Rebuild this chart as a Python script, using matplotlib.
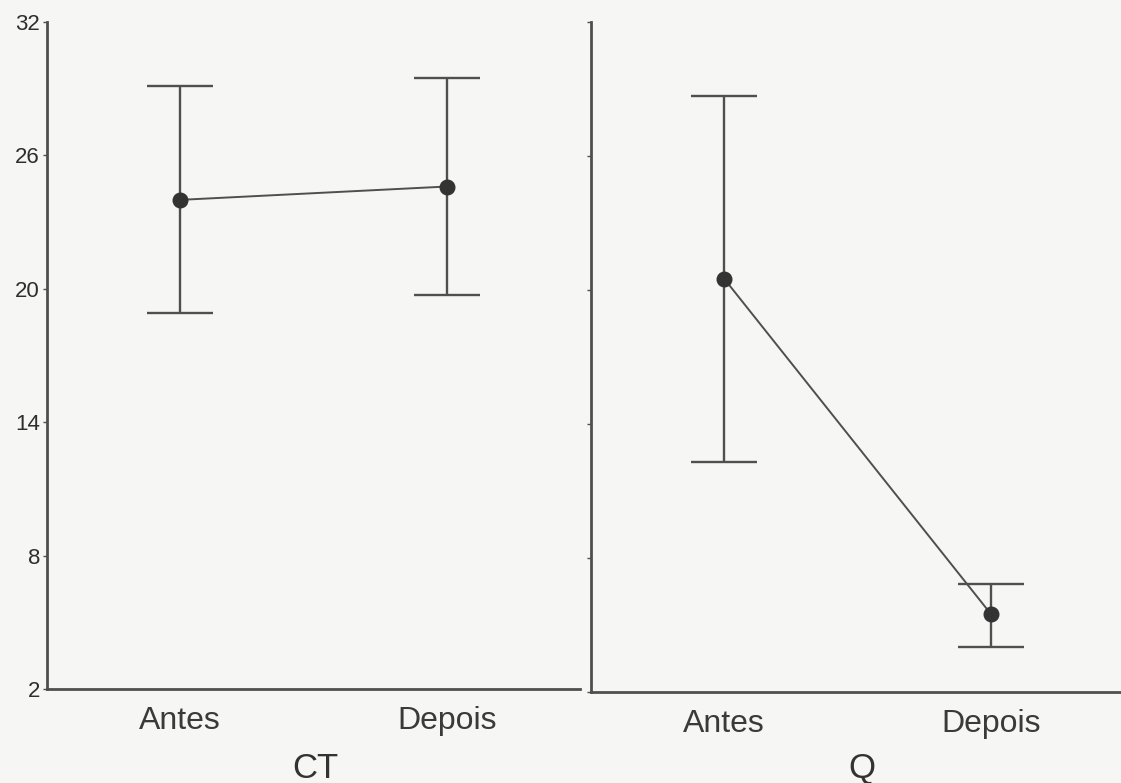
import matplotlib
matplotlib.use("Agg")
import matplotlib.pyplot as plt

# Mean abundance with error bars, before and after management
periods = ["Antes", "Depois"]
groups = ["CT", "Q"]

ct_mean = [24.0, 24.6]
ct_upper = [29.1, 29.5]
ct_lower = [18.9, 19.7]

q_mean = [20.5, 5.5]
q_upper = [28.7, 6.85]
q_lower = [12.3, 4.0]

y_ticks = [2, 8, 14, 20, 26, 32]

plt.rcParams["font.family"] = ["Liberation Sans", "DejaVu Sans"]

W, H = 1121, 783
fig = plt.figure(figsize=(W / 100, H / 100), dpi=100)
bg = "#f6f6f4"
fig.patch.set_facecolor(bg)

ink = "#4f4f4f"

def px(x0, y0, x1, y1):
    return [x0 / W, 1 - y1 / H, (x1 - x0) / W, (y1 - y0) / H]

ax1 = fig.add_axes(px(47, 22, 580, 689))
ax2 = fig.add_axes(px(591, 22, 1124, 692))

panels = [
    (ax1, ct_mean, ct_upper, ct_lower, True),
    (ax2, q_mean, q_upper, q_lower, False),
]

for ax, mean, upper, lower, show_labels in panels:
    ax.set_facecolor("none")
    xs = list(range(len(periods)))
    yerr = [[m - lo for m, lo in zip(mean, lower)],
            [up - m for m, up in zip(mean, upper)]]
    ax.errorbar(xs, mean, yerr=yerr, fmt="none", ecolor=ink,
                elinewidth=1.7, capsize=24, capthick=1.7)
    ax.plot(xs, mean, color=ink, lw=1.4, marker="o", markersize=10.5,
            markerfacecolor="#333333", markeredgecolor="#333333")
    ax.set_xlim(-0.5, 1.5)
    ax.set_ylim(2, 32)
    ax.set_yticks(y_ticks)
    ax.set_xticks(xs)
    ax.set_xticklabels(periods, fontsize=23, color="#3a3a3a")
    ax.tick_params(axis="x", length=0, pad=12)
    ax.tick_params(axis="y", length=3, width=1, color=ink, direction="out",
                   labelsize=16, labelcolor="#2e2e2e", pad=2)
    if not show_labels:
        ax.tick_params(axis="y", labelleft=False)
    for side in ("top", "right"):
        ax.spines[side].set_visible(False)
    for side in ("left", "bottom"):
        ax.spines[side].set_color(ink)
        ax.spines[side].set_linewidth(2)

fig.text(315 / W, 1 - 768 / H, groups[0], fontsize=25, color="#333333",
         ha="center", va="center")
fig.text(862 / W, 1 - 768 / H, groups[1], fontsize=25, color="#333333",
         ha="center", va="center")

fig.savefig("out.png", dpi=100, facecolor=bg)
